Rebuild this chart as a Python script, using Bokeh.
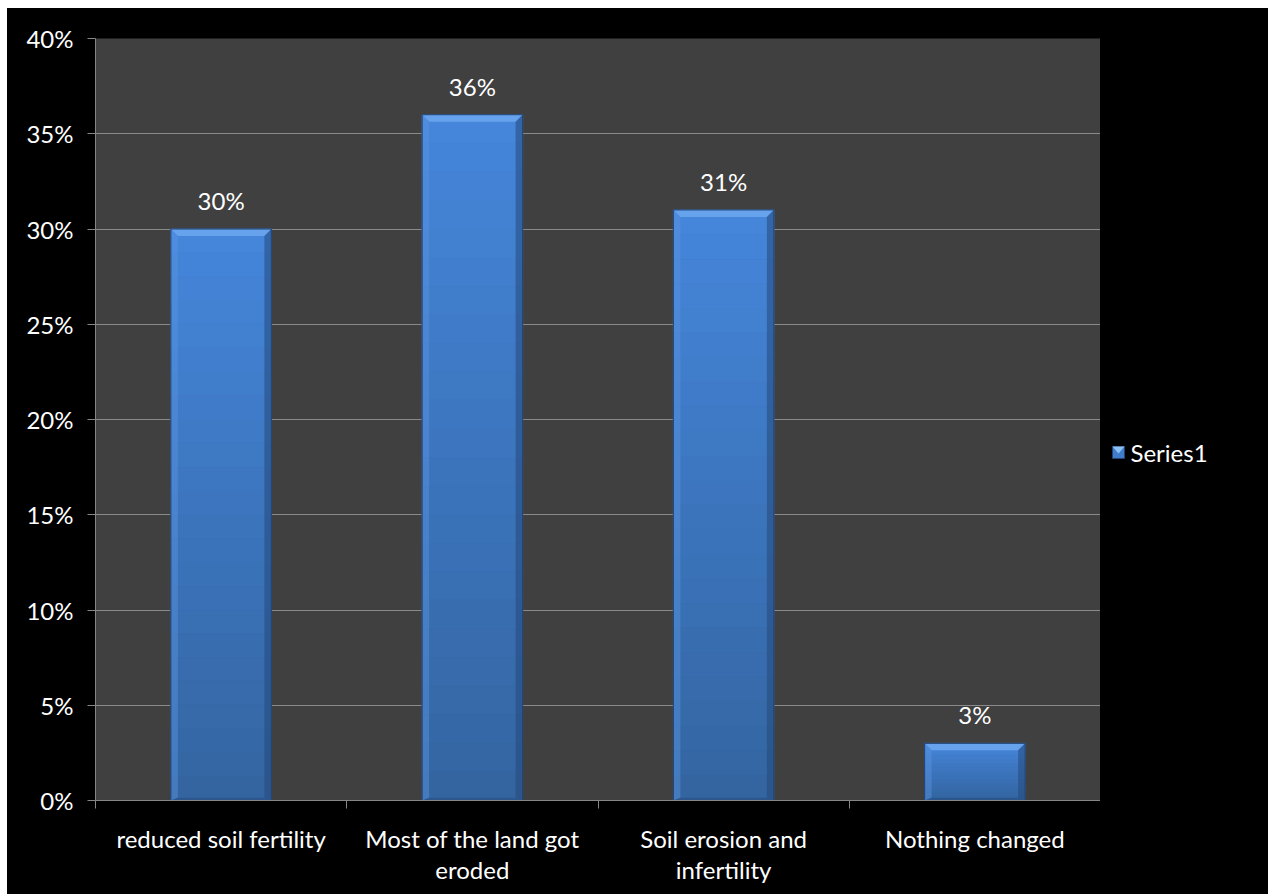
from bokeh.plotting import figure
from bokeh.layouts import row
from bokeh.models import Range1d, FixedTicker, NumeralTickFormatter, ColumnDataSource
from bokeh.embed import file_html
from bokeh.resources import INLINE
from bokeh.core.properties import value

categories = ["reduced soil fertility", "Most of the land got\neroded",
              "Soil erosion and\ninfertility", "Nothing changed"]
shares = [0.30, 0.36, 0.31, 0.03]
labels = ["30%", "36%", "31%", "3%"]
y_ticks = [0, 0.05, 0.10, 0.15, 0.20, 0.25, 0.30, 0.35, 0.40]
series_name = "Series1"

FONT = "Lato"
FS = "24px"
W, H = 1093, 886
LEG_W = 168
ML, MR, MT, MB = 88, 0, 30, 94
frame_w = W - ML - MR
frame_h = H - MT - MB
y_max = 0.40
n = len(categories)
bar_w = 0.4

p = figure(width=W, height=H, output_backend="svg", toolbar_location=None,
           x_range=Range1d(0, n), y_range=Range1d(0, y_max),
           min_border_left=ML, min_border_right=MR, min_border_top=MT, min_border_bottom=MB)
p.background_fill_color = "#404040"
p.border_fill_color = "#000000"
p.outline_line_color = None
p.styles = {"background-color": "#000000"}

# y axis
p.yaxis.ticker = FixedTicker(ticks=y_ticks, minor_ticks=[])
p.yaxis.formatter = NumeralTickFormatter(format="0%")
p.yaxis.axis_line_color = "#868686"
p.yaxis.major_tick_line_color = "#868686"
p.yaxis.major_tick_out = 8
p.yaxis.major_tick_in = 0
p.yaxis.major_label_text_color = "#ffffff"
p.yaxis.major_label_text_font = FONT
p.yaxis.major_label_text_font_size = FS
p.yaxis.major_label_standoff = 14

# x axis: labels at centers, ticks on category boundaries
centers = [i + 0.5 for i in range(n)]
p.xaxis.ticker = FixedTicker(ticks=centers, minor_ticks=list(range(n + 1)))
p.xaxis.major_label_overrides = {c: lab for c, lab in zip(centers, categories)}
p.xaxis.axis_line_color = "#868686"
p.xaxis.major_tick_line_color = None
p.xaxis.minor_tick_line_color = "#868686"
p.xaxis.minor_tick_out = 8
p.xaxis.minor_tick_in = 0
p.xaxis.major_label_text_color = "#ffffff"
p.xaxis.major_label_text_font = FONT
p.xaxis.major_label_text_font_size = FS
p.xaxis.major_label_standoff = 15
p.xaxis.major_label_text_line_height = 1.1

p.xgrid.grid_line_color = None
p.ygrid.ticker = FixedTicker(ticks=y_ticks)
p.ygrid.grid_line_color = "#8a8a8a"
p.ygrid.grid_line_width = 1

# bevelled, vertically shaded bars
px_x = frame_w / n
px_y = frame_h / y_max
bev_x = 7 / px_x
bev_y = 7 / px_y

def mix(c1, c2, t):
    a = [int(c1[i:i + 2], 16) for i in (1, 3, 5)]
    b = [int(c2[i:i + 2], 16) for i in (1, 3, 5)]
    return "#%02x%02x%02x" % tuple(round(a[k] + (b[k] - a[k]) * t) for k in range(3))

TOP_C, BOT_C = "#4585da", "#33649f"
steps = 24
for c, v in zip(centers, shares):
    x0, x1 = c - bar_w / 2, c + bar_w / 2
    for s in range(steps):
        y_hi = v * (1 - s / steps)
        y_lo = v * (1 - (s + 1) / steps)
        col = mix(TOP_C, BOT_C, s / steps)
        p.quad(left=x0, right=x1, top=y_hi, bottom=y_lo,
               fill_color=col, line_color=col, line_width=1)
    # top bevel
    p.patch([x0, x1, x1 - bev_x, x0 + bev_x], [v, v, v - bev_y, v - bev_y],
            fill_color="#6aa6ee", line_color=None, fill_alpha=0.9)
    # side and bottom bevels
    p.patch([x0, x0 + bev_x, x0 + bev_x, x0], [v, v - bev_y, bev_y * 0.4, 0],
            fill_color="#5a94e0", line_color=None, fill_alpha=0.45)
    p.patch([x1, x1 - bev_x, x1 - bev_x, x1], [v, v - bev_y, bev_y * 0.4, 0],
            fill_color="#24487a", line_color=None, fill_alpha=0.55)
    p.patch([x0, x1, x1 - bev_x, x0 + bev_x], [0, 0, bev_y * 0.4, bev_y * 0.4],
            fill_color="#24487a", line_color=None, fill_alpha=0.5)
    p.quad(left=x0, right=x1, top=v, bottom=0, fill_color=None,
           line_color="#23426e", line_width=1)

src = ColumnDataSource(dict(x=centers, y=shares, t=labels))
p.text(x="x", y="y", text="t", source=src, text_color="#ffffff",
       text_font=value(FONT), text_font_size=FS,
       text_align="center", text_baseline="bottom", y_offset=-14)

# legend panel on the right; its frame lines up with the plot frame,
# so its ranges are pixel offsets from the frame's top-left corner
lg = figure(width=LEG_W, height=H, output_backend="svg", toolbar_location=None,
            x_range=Range1d(0, LEG_W), y_range=Range1d(frame_h, 0),
            x_axis_location=None, y_axis_location=None,
            min_border_left=0, min_border_right=0,
            min_border_top=MT, min_border_bottom=MB)
lg.xgrid.grid_line_color = None
lg.ygrid.grid_line_color = None
lg.outline_line_color = None
lg.background_fill_color = None
lg.border_fill_color = None
lg.styles = {"background-color": "#000000"}
key_x, key_y, key = 18, 414, 12
lg.quad(left=key_x - key / 2, right=key_x + key / 2, top=key_y - key / 2, bottom=key_y + key / 2,
        fill_color="#3f7ccc", line_color="#23426e")
lg.patch([key_x - key / 2, key_x + key / 2, key_x], [key_y - key / 2, key_y - key / 2, key_y + 1],
         fill_color="#8cc0f5", line_color=None)
lg.text(x=[key_x + 12], y=[key_y], text=[series_name], text_color="#ffffff",
        text_font=value(FONT), text_font_size=FS, text_baseline="middle", text_align="left")

layout = row(p, lg, spacing=0)
html = file_html(layout, INLINE)
style = "<style>html,body{margin:0;padding:0;background:#ffffff;}body{padding:8px 0 0 7px;}</style>"
html = html.replace("</head>", style + "</head>", 1)
open("out.html", "w").write(html)
